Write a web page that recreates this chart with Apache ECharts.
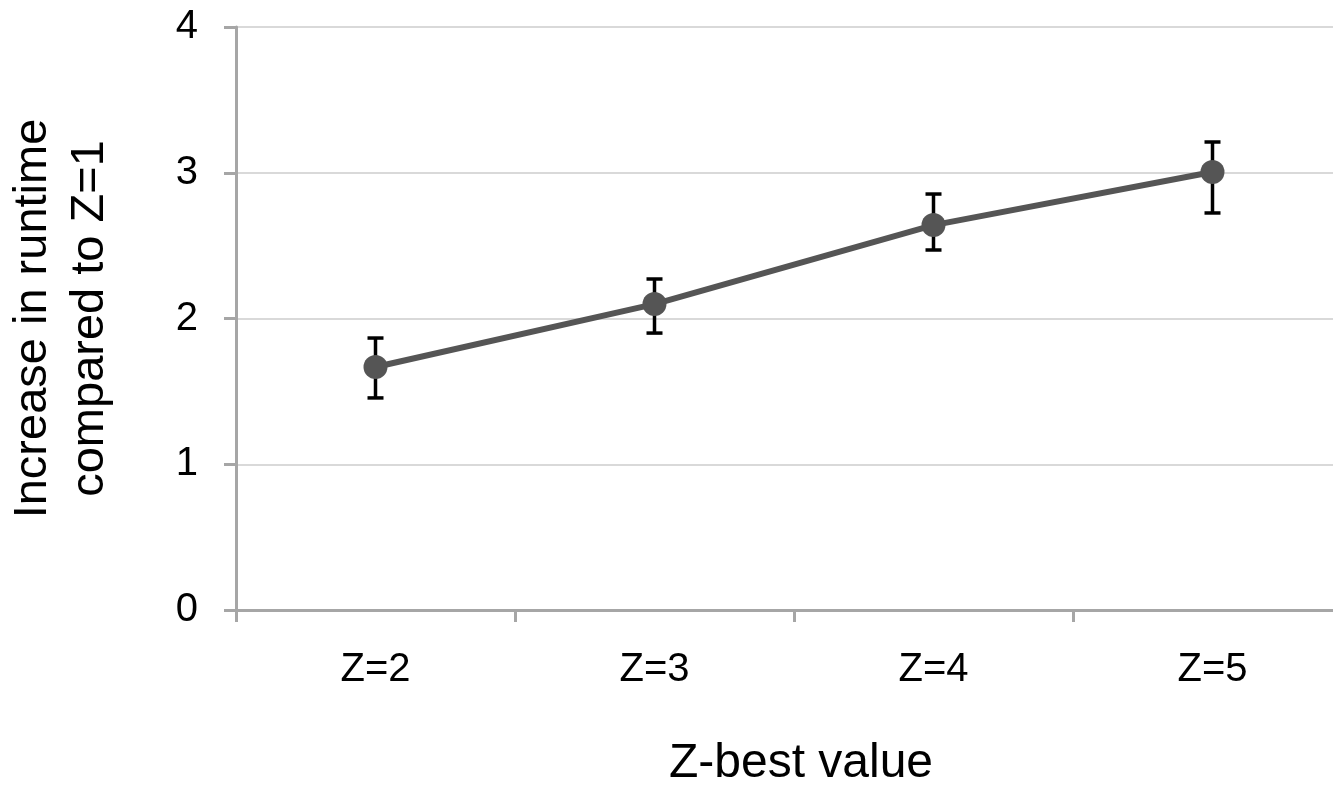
<!DOCTYPE html>
<html>
<head>
<meta charset="utf-8">
<script src="https://cdn.jsdelivr.net/npm/echarts@6/dist/echarts.min.js"></script>
<style>html,body{margin:0;padding:0;background:#fff;}#c{width:1333px;height:787px;}</style>
</head>
<body>
<div id="c"></div>
<script>
const categories = ['Z=2', 'Z=3', 'Z=4', 'Z=5'];
const meanValues = [1.667, 2.099, 2.641, 3.005];
const upperValues = [1.866, 2.271, 2.854, 3.211];
const lowerValues = [1.455, 1.900, 2.470, 2.724];
const yTicks = [0, 1, 2, 3, 4];

const chart = echarts.init(document.getElementById('c'), null, {renderer: 'canvas'});
const font = '"Liberation Sans", Arial, sans-serif';
const errData = categories.map((c, i) => [i, lowerValues[i], upperValues[i]]);

chart.setOption({
  animation: false,
  backgroundColor: '#ffffff',
  grid: {left: 236, right: -19, top: 27, bottom: 177, containLabel: false, outerBoundsMode: 'none'},
  xAxis: {
    type: 'category',
    data: categories,
    boundaryGap: true,
    name: 'Z-best value',
    nameLocation: 'middle',
    nameGap: 130,
    nameTextStyle: {fontFamily: font, fontSize: 48, color: '#000', padding: [0, 0, 0, 14]},
    axisLine: {show: true, lineStyle: {color: '#a6a6a6', width: 3}},
    axisTick: {show: true, alignWithLabel: false, length: 12, lineStyle: {color: '#a6a6a6', width: 3}},
    axisLabel: {fontFamily: font, fontSize: 40, color: '#000', margin: 40},
    splitLine: {show: false}
  },
  yAxis: {
    type: 'value',
    min: 0, max: 4, interval: 1,
    name: 'Increase in runtime\ncompared to Z=1',
    nameLocation: 'middle',
    nameRotate: 90,
    nameGap: 117,
    nameTextStyle: {fontFamily: font, fontSize: 47, color: '#000', lineHeight: 57, align: 'center'},
    axisLine: {show: true, lineStyle: {color: '#a6a6a6', width: 3}},
    axisTick: {show: true, length: 12, lineStyle: {color: '#a6a6a6', width: 3}},
    axisLabel: {fontFamily: font, fontSize: 40, color: '#000', margin: 38,
      formatter: v => yTicks.includes(v) ? String(v) : ''},
    splitLine: {show: true, lineStyle: {color: '#d9d9d9', width: 2}}
  },
  series: [
    {
      type: 'custom',
      z: 1,
      data: errData,
      renderItem: function (params, api) {
        const x = api.value(0);
        const lo = api.coord([x, api.value(1)]);
        const hi = api.coord([x, api.value(2)]);
        const hw = 8;
        const st = {stroke: '#000', lineWidth: 3.5};
        return {
          type: 'group',
          children: [
            {type: 'line', shape: {x1: lo[0], y1: lo[1], x2: hi[0], y2: hi[1]}, style: st},
            {type: 'line', shape: {x1: lo[0] - hw, y1: lo[1], x2: lo[0] + hw, y2: lo[1]}, style: st},
            {type: 'line', shape: {x1: hi[0] - hw, y1: hi[1], x2: hi[0] + hw, y2: hi[1]}, style: st}
          ]
        };
      }
    },
    {
      type: 'line',
      z: 3,
      data: meanValues,
      symbol: 'circle',
      symbolSize: 24,
      itemStyle: {color: '#555555'},
      lineStyle: {color: '#555555', width: 6}
    }
  ]
});
</script>
</body>
</html>
